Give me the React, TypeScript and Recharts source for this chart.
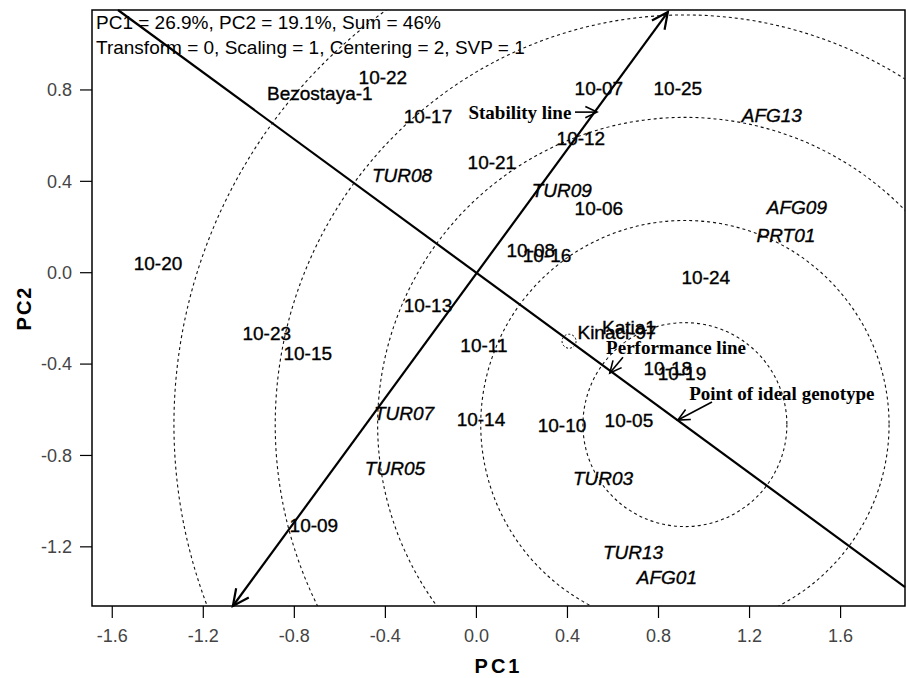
import React from "react"
import {
  ScatterChart,
  Scatter,
  XAxis,
  YAxis,
  ReferenceLine,
  ReferenceDot,
  ReferenceArea,
} from "recharts"

// axis ranges and ticks
const X_MIN = -1.689
const X_MAX = 1.883
const Y_MIN = -1.459
const Y_MAX = 1.15
const xTicks = [-1.6, -1.2, -0.8, -0.4, 0, 0.4, 0.8, 1.2, 1.6]
const yTicks = [-1.2, -0.8, -0.4, 0, 0.4, 0.8]

// genotypes (plain labels)
const genoNames = [
  "10-22", "Bezostaya-1", "10-17", "10-07", "10-25", "10-12", "10-21", "10-06",
  "10-08", "10-16", "10-24", "10-20", "10-13", "10-23", "10-15", "10-11",
  "Kinaci-97", "Katia1", "10-18", "10-19", "10-14", "10-10", "10-05", "10-09",
]
const genoPC1 = [
  -0.411, -0.688, -0.213, 0.538, 0.885, 0.459, 0.068, 0.538,
  0.239, 0.31, 1.008, -1.399, -0.213, -0.921, -0.741, 0.033,
  0.618, 0.67, 0.841, 0.903, 0.02, 0.376, 0.67, -0.714,
]
const genoPC2 = [
  0.856, 0.786, 0.686, 0.807, 0.807, 0.589, 0.484, 0.282,
  0.099, 0.078, -0.019, 0.042, -0.141, -0.264, -0.352, -0.317,
  -0.26, -0.238, -0.417, -0.439, -0.64, -0.667, -0.645, -1.105,
]

// environments (italic labels)
const envNames = ["TUR08", "TUR09", "AFG13", "AFG09", "PRT01", "TUR07", "TUR05", "TUR03", "TUR13", "AFG01"]
const envPC1 = [-0.327, 0.375, 1.298, 1.408, 1.36, -0.318, -0.358, 0.556, 0.688, 0.837]
const envPC2 = [0.427, 0.362, 0.69, 0.287, 0.165, -0.614, -0.855, -0.899, -1.223, -1.333]

// ideal genotype circles
const idealCenter = { x: 0.916, y: -0.665 }
const circleRadii = [0.448, 0.897, 1.35, 1.8, 2.245]
const averageEnv = { x: 0.407, y: -0.3 }

// stability (ATC ordinate) and performance (ATC abscissa) lines
const stabilityLine = [{ x: -1.07, y: -1.459 }, { x: 0.841, y: 1.141 }]
const performanceLine = [{ x: -1.575, y: 1.15 }, { x: 1.883, y: -1.376 }]

// annotations
const noteNames = ["Stability line", "Performance line", "Point of ideal genotype"]
const notePC1 = [0.191, 0.877, 1.342]
const notePC2 = [0.703, -0.326, -0.526]
const noteArrows = [
  [{ x: 0.433, y: 0.703 }, { x: 0.53, y: 0.703 }],
  [{ x: 0.644, y: -0.37 }, { x: 0.586, y: -0.439 }],
  [{ x: 1.035, y: -0.566 }, { x: 0.885, y: -0.645 }],
]

const W = 906
const H = 678
const MARGIN = { top: 10, right: 1, bottom: 32, left: 12 }
const Y_AXIS_W = 80
const X_AXIS_H = 40
const PLOT_W = W - MARGIN.left - MARGIN.right - Y_AXIS_W
const PX_PER_UNIT = PLOT_W / (X_MAX - X_MIN)

const SANS = "'Liberation Sans', Arial, sans-serif"
const SERIF = "'Liberation Serif', 'Times New Roman', serif"

const genoData = genoNames.map((name, i) => ({ x: genoPC1[i], y: genoPC2[i], name }))
const envData = envNames.map((name, i) => ({ x: envPC1[i], y: envPC2[i], name }))
const noteData = noteNames.map((name, i) => ({ x: notePC1[i], y: notePC2[i], name }))

const labelShape = (italic: boolean, serif = false) => (props: any) => {
  const { cx, cy, payload } = props
  return (
    <text
      x={cx}
      y={cy}
      dy="0.36em"
      textAnchor="middle"
      fontFamily={serif ? SERIF : SANS}
      fontWeight={serif ? "bold" : "normal"}
      fontStyle={italic ? "italic" : "normal"}
      fontSize={19}
      fill="#000"
      stroke={serif ? "none" : "#000"}
      strokeWidth={0.35}
    >
      {payload.name}
    </text>
  )
}

const arrowShape = (both: boolean, width: number, headLen: number) => (props: any) => {
  const { x1, y1, x2, y2 } = props
  const head = (tx: number, ty: number, fx: number, fy: number) => {
    const a = Math.atan2(fy - ty, fx - tx)
    const s = Math.PI / 7
    return (
      <path
        d={`M${tx + headLen * Math.cos(a + s)},${ty + headLen * Math.sin(a + s)} L${tx},${ty} L${tx + headLen * Math.cos(a - s)},${ty + headLen * Math.sin(a - s)}`}
        fill="none"
        stroke="#000"
        strokeWidth={width}
      />
    )
  }
  return (
    <g>
      <line x1={x1} y1={y1} x2={x2} y2={y2} stroke="#000" strokeWidth={width} />
      {head(x2, y2, x1, y1)}
      {both ? head(x1, y1, x2, y2) : null}
    </g>
  )
}

export default function App() {
  return (
    <div style={{ position: "absolute", left: 0, top: 0, width: W, height: H, background: "#fff" }}>
      <ScatterChart width={W} height={H} margin={MARGIN}>
        <XAxis
          type="number"
          dataKey="x"
          domain={[X_MIN, X_MAX]}
          allowDataOverflow
          ticks={xTicks}
          tickFormatter={(v: number) => v.toFixed(1)}
          height={X_AXIS_H}
          tickSize={12}
          tickMargin={11}
          axisLine={false}
          tickLine={{ stroke: "#000", strokeWidth: 1.2 }}
          tick={{ fontSize: 18, fill: "#444", fontFamily: SANS }}
          label={() => (
            <text
              x={MARGIN.left + Y_AXIS_W + PLOT_W / 2}
              y={673}
              textAnchor="middle"
              fontFamily={SANS}
              fontWeight="bold"
              fontSize={20}
              letterSpacing={3}
              fill="#000"
            >
              PC1
            </text>
          )}
        />
        <YAxis
          type="number"
          dataKey="y"
          domain={[Y_MIN, Y_MAX]}
          allowDataOverflow
          ticks={yTicks}
          tickFormatter={(v: number) => v.toFixed(1)}
          width={Y_AXIS_W}
          tickSize={12}
          tickMargin={8}
          axisLine={false}
          tickLine={{ stroke: "#000", strokeWidth: 1.2 }}
          tick={{ fontSize: 18, fill: "#444", fontFamily: SANS }}
          label={() => (
            <text
              x={31}
              y={308}
              transform="rotate(-90 31 308)"
              textAnchor="middle"
              fontFamily={SANS}
              fontWeight="bold"
              fontSize={20}
              letterSpacing={2}
              fill="#000"
            >
              PC2
            </text>
          )}
        />
        {circleRadii.map((r) => (
          <ReferenceDot
            key={r}
            x={idealCenter.x}
            y={idealCenter.y}
            r={r * PX_PER_UNIT}
            fill="none"
            stroke="#111"
            strokeWidth={1.1}
            strokeDasharray="3 3"
            ifOverflow="hidden"
          />
        ))}
        <ReferenceDot
          x={averageEnv.x}
          y={averageEnv.y}
          r={7}
          fill="none"
          stroke="#000"
          strokeWidth={1}
          strokeDasharray="2 2"
          ifOverflow="hidden"
        />
        <ReferenceArea
          x1={X_MIN}
          x2={X_MAX}
          y1={Y_MIN}
          y2={Y_MAX}
          fill="none"
          stroke="#000"
          strokeWidth={1.5}
          ifOverflow="visible"
        />
        <ReferenceLine
          segment={performanceLine}
          ifOverflow="visible"
          shape={(p: any) => (
            <line x1={p.x1} y1={p.y1} x2={p.x2} y2={p.y2} stroke="#000" strokeWidth={2.2} />
          )}
        />
        <ReferenceLine segment={stabilityLine} ifOverflow="visible" shape={arrowShape(true, 2.2, 18)} />
        {noteArrows.map((seg, i) => (
          <ReferenceLine key={i} segment={seg} ifOverflow="visible" shape={arrowShape(false, 1.6, 13)} />
        ))}
        <Scatter data={genoData} shape={labelShape(false)} isAnimationActive={false} />
        <Scatter data={envData} shape={labelShape(true)} isAnimationActive={false} />
        <Scatter data={noteData} shape={labelShape(false, true)} isAnimationActive={false} />
        <text x={96} y={29} fontFamily={SANS} fontSize={19} fill="#000">
          PC1 = 26.9%, PC2 = 19.1%, Sum = 46%
        </text>
        <text x={96} y={54} fontFamily={SANS} fontSize={19} fill="#000">
          Transform = 0, Scaling = 1, Centering = 2, SVP = 1
        </text>
      </ScatterChart>
    </div>
  )
}
